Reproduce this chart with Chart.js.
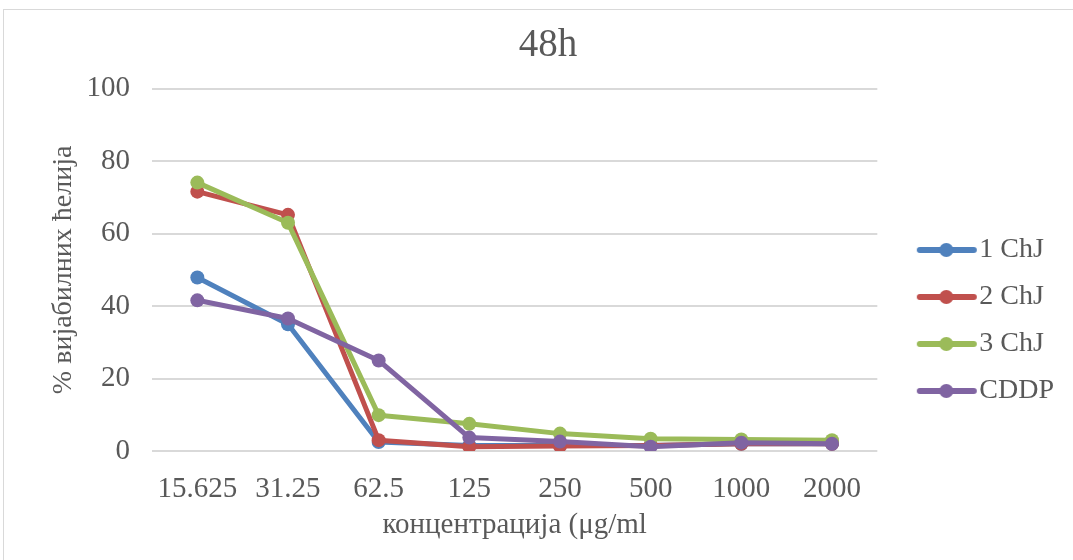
<!DOCTYPE html>
<html>
<head>
<meta charset="utf-8">
<script src="https://cdn.jsdelivr.net/npm/chart.js@4/dist/chart.umd.min.js"></script>
<style>
  html, body { margin: 0; padding: 0; background: #fff; overflow: hidden; }
  body { width: 1073px; height: 560px; position: relative; }
  #frame {
    position: absolute; left: 3px; top: 9px;
    width: 1116px; height: 621px;
    border: 1px solid #d9d9d9;
  }
  #chart { display: block; }
</style>
</head>
<body>
<div id="frame"><canvas id="chart" width="1116" height="621"></canvas></div>
<script>
// ===== DATA =====
const concentrations = ['15.625', '31.25', '62.5', '125', '250', '500', '1000', '2000'];
const seriesNames = ['1 ChJ', '2 ChJ', '3 ChJ', 'CDDP'];
const chj1 = [47.9, 35.0, 2.5, 1.5, 1.5, 1.5, 2.0, 2.0];
const chj2 = [71.6, 65.2, 3.0, 1.2, 1.4, 1.5, 2.0, 2.0];
const chj3 = [74.1, 63.0, 9.9, 7.5, 4.8, 3.4, 3.2, 3.0];
const cddp = [41.6, 36.6, 25.0, 3.7, 2.6, 1.2, 2.3, 2.0];
const yTicks = [0, 20, 40, 60, 80, 100];

const colors = ['#4F81BD', '#C0504D', '#9BBB59', '#8064A2'];
const FONT = '"Liberation Serif", "Times New Roman", serif';
const TEXT = '#595959';

// legend marker: a short line with a dot in the middle
function legendMarker(color) {
  const c = document.createElement('canvas');
  c.width = 100; c.height = 18;
  const ctx = c.getContext('2d');
  ctx.strokeStyle = color;
  ctx.lineWidth = 6;
  ctx.lineCap = 'round';
  ctx.beginPath();
  ctx.moveTo(39, 9);
  ctx.lineTo(93, 9);
  ctx.stroke();
  ctx.fillStyle = color;
  ctx.beginPath();
  ctx.arc(65.5, 9, 7, 0, Math.PI * 2);
  ctx.fill();
  return c;
}

function lineSet(label, data, color, order) {
  return {
    label,
    data,
    borderColor: color,
    backgroundColor: color,
    borderWidth: 5,
    borderJoinStyle: 'round',
    borderCapStyle: 'round',
    pointRadius: 7,
    pointBorderWidth: 0,
    pointBackgroundColor: color,
    tension: 0,
    fill: false,
    order,
  };
}

const datasets = [
  lineSet(seriesNames[0], chj1, colors[0], 4),
  lineSet(seriesNames[1], chj2, colors[1], 3),
  lineSet(seriesNames[2], chj3, colors[2], 2),
  lineSet(seriesNames[3], cddp, colors[3], 1),
];

new Chart(document.getElementById('chart'), {
  type: 'line',
  data: { labels: concentrations, datasets },
  options: {
    responsive: false,
    animation: false,
    layout: { padding: { left: 28, right: 56, top: 0, bottom: 0 } },
    plugins: {
      tooltip: { enabled: false },
      title: {
        display: true,
        text: '48h',
        color: TEXT,
        font: { family: FONT, size: 39, weight: 'normal' },
        padding: { top: 12, bottom: 20 },
      },
      legend: {
        position: 'right',
        align: 'center',
        labels: {
          usePointStyle: true,
          pointStyleWidth: 69,
          padding: 19,
          color: TEXT,
          font: { family: FONT, size: 28 },
          generateLabels: (chart) => chart.data.datasets.map((ds, i) => ({
            text: ds.label,
            fontColor: TEXT,
            pointStyle: legendMarker(ds.borderColor),
            lineWidth: 0,
            strokeStyle: 'transparent',
            fillStyle: ds.borderColor,
            hidden: false,
            datasetIndex: i,
          })),
        },
      },
    },
    scales: {
      x: {
        offset: true,
        grid: { display: false, drawTicks: false },
        border: { display: false },
        ticks: {
          color: TEXT,
          font: { family: FONT, size: 29 },
          padding: 21,
          maxRotation: 0,
          autoSkip: false,
        },
        title: {
          display: true,
          text: 'концентрација (μg/ml',
          color: TEXT,
          font: { family: FONT, size: 29 },
          padding: { top: 6, bottom: 88 },
        },
        afterFit: (scale) => { scale.height = 180; },
      },
      y: {
        min: 0,
        max: 100,
        afterBuildTicks: (scale) => { scale.ticks = yTicks.map(v => ({ value: v })); },
        grid: { color: '#d9d9d9', lineWidth: 2, drawTicks: false },
        border: { display: false },
        ticks: {
          color: TEXT,
          font: { family: FONT, size: 29 },
          padding: 22,
        },
        title: {
          display: true,
          text: '% вијабилних ћелија',
          color: TEXT,
          font: { family: FONT, size: 28 },
          padding: { top: 15, bottom: 0 },
        },
        afterFit: (scale) => { scale.width = 120; },
      },
    },
  },
});
</script>
</body>
</html>
